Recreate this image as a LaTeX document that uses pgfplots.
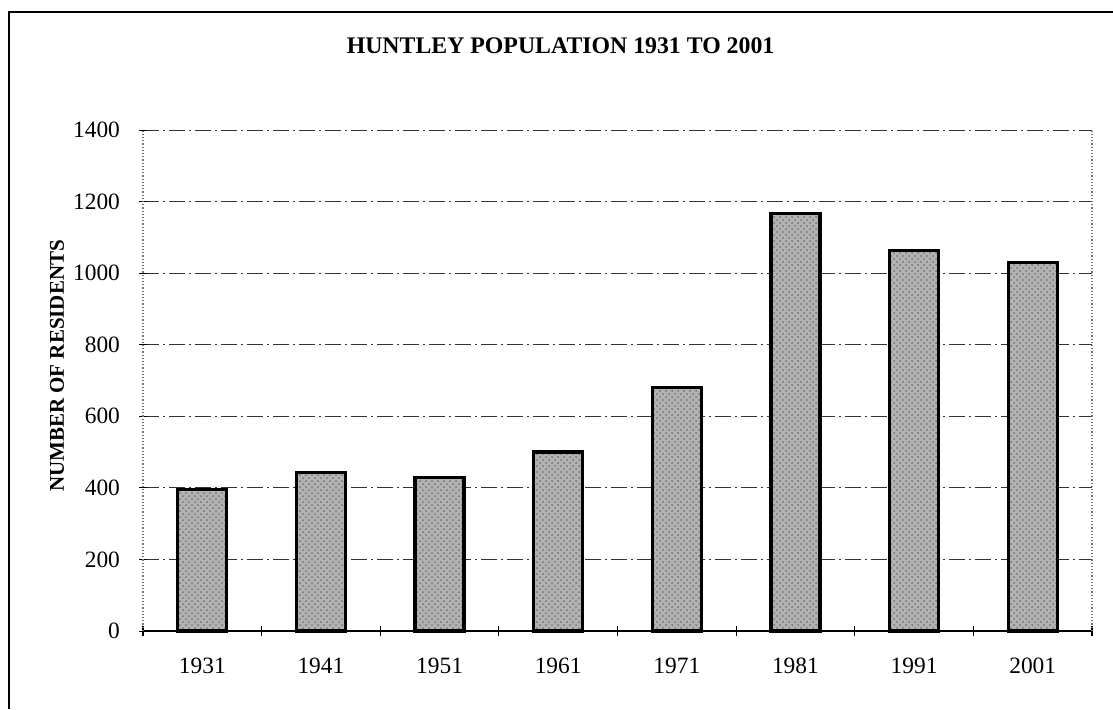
\documentclass[border=0pt]{standalone}
\usepackage{pgfplots}
\pgfplotsset{compat=1.18}
\usepackage{fontspec}
\setmainfont{Liberation Serif}
\usetikzlibrary{patterns}
\pgfplotstableread{
x year pop
0 1931 396
1 1941 442
2 1951 428
3 1961 500
4 1971 680
5 1981 1166
6 1991 1063
7 2001 1030
}\popdata
\begin{document}
\begin{tikzpicture}
\path[use as bounding box, fill=white] (0pt,0pt) rectangle (556.5pt,354.5pt);
\draw[line width=1pt] (4.5pt,0pt) -- (4.5pt,348.5pt) -- (556.5pt,348.5pt);
\begin{axis}[
  at={(71.5pt,39pt)}, anchor=south west,
  scale only axis,
  width=474.5pt, height=250.5pt,
  xmin=-0.5, xmax=7.5,
  ymin=0, ymax=1400,
  axis x line*=bottom,
  axis y line*=left,
  x axis line style={black, line width=1pt},
  y axis line style={black!55, densely dotted, line width=0.6pt},
  xtick={0,...,7},
  xticklabels={1931,1941,1951,1961,1971,1981,1991,2001},
  minor xtick={-0.5,0.5,...,7.5},
  major x tick style={draw=none},
  minor x tick style={black, line width=0.6pt},
  minor tick length=5pt,
  ytick={0,200,...,1400},
  y tick style={black, line width=0.5pt},
  major tick length=4pt,
  tick align=center,
  ymajorgrids,
  major grid style={black!80, line width=0.5pt, dash pattern=on 8pt off 2pt on 1pt off 2pt},
  tick label style={font=\fontsize{11.7}{13}\selectfont},
  /pgf/number format/assume math mode=true,
  /pgf/number format/1000 sep={},
  xticklabel style={yshift=-8pt},
  yticklabel style={xshift=-6pt},
  ylabel={NUMBER OF RESIDENTS},
  ylabel style={font=\fontsize{10.5}{12}\selectfont\bfseries, at={(axis description cs:-0.0906,0.529)}, anchor=center, rotate=0},
  title={HUNTLEY POPULATION 1931 TO 2001},
  title style={font=\fontsize{11.9}{14}\selectfont\bfseries, at={(axis description cs:0.44,1.144)}, anchor=center, yshift=0pt},
  clip=false,
]
\addplot[ybar, bar width=24.5pt, bar shift=0pt, draw=black, line width=1.6pt, fill=black!30,
  postaction={pattern=crosshatch dots, pattern color=black!55}]
  table[x=x, y=pop] {\popdata};
\draw[black!55, densely dotted, line width=0.6pt] (rel axis cs:1,0) -- (rel axis cs:1,1);
\end{axis}
\end{tikzpicture}
\end{document}
